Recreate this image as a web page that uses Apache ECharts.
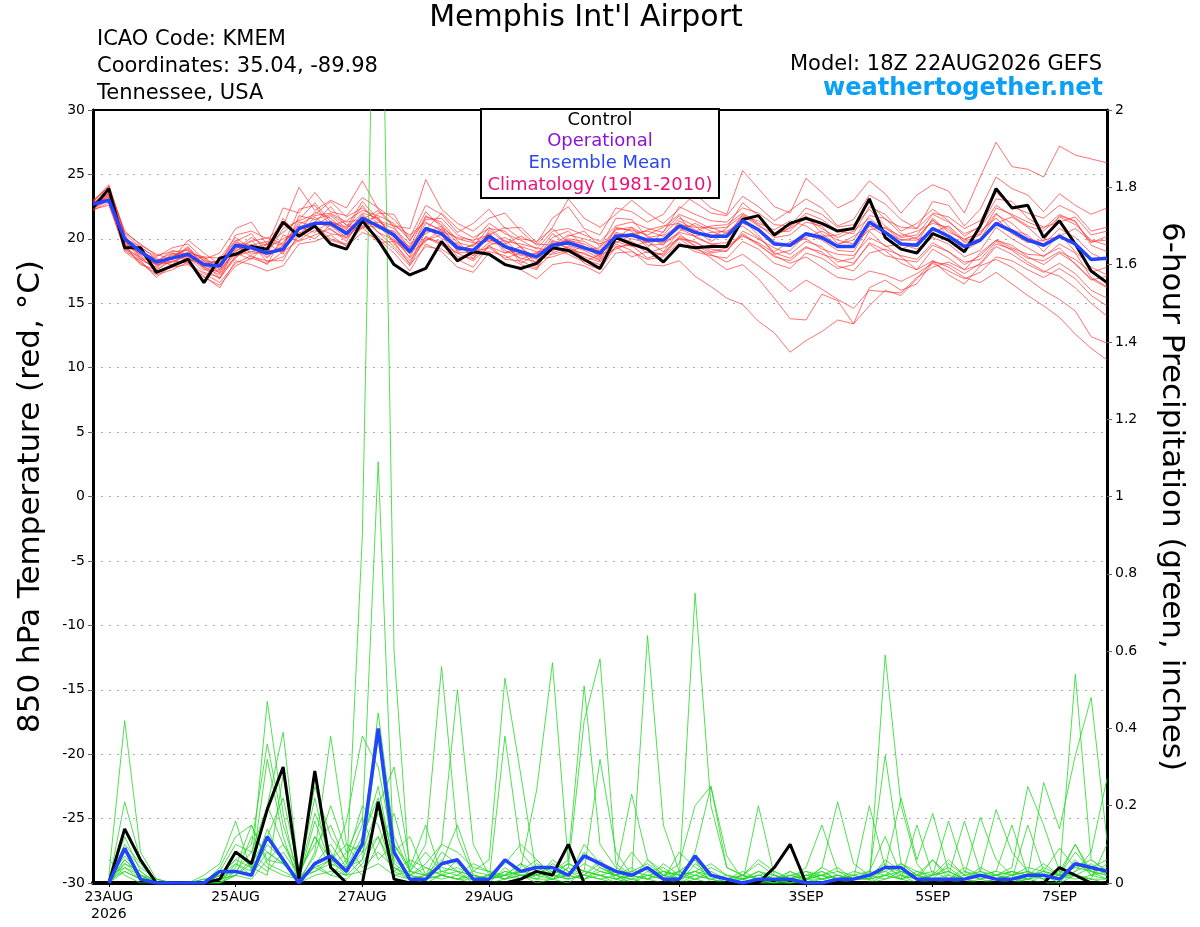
<!DOCTYPE html>
<html>
<head>
<meta charset="utf-8">
<title>Memphis Int'l Airport - GEFS</title>
<script src="https://cdn.jsdelivr.net/npm/echarts@6/dist/echarts.min.js"></script>
<style>
  html, body { margin: 0; padding: 0; background: #fff; }
  #chart { width: 1200px; height: 927px; }
</style>
</head>
<body>
<div id="chart"></div>
<script>
// x = 6-hour step counted from 18Z 22AUG2026 (step 0) to 18Z 07SEP (step 64)
var tickSteps = [1, 9, 17, 25, 37, 45, 53, 61];
var tickLabels = ['23AUG\n2026', '25AUG', '27AUG', '29AUG', '1SEP', '3SEP', '5SEP', '7SEP'];

// 850 hPa temperature, degC, steps 0..64
var controlTemp = [
  22.4, 23.9, 19.3, 19.3, 17.4, 17.9, 18.4, 16.6,
  18.5, 18.8, 19.4, 19.2, 21.3, 20.2, 21.0, 19.6,
  19.2, 21.4, 19.9, 18.0, 17.2, 17.7, 19.8, 18.3,
  19.0, 18.8, 18.0, 17.7, 18.1, 19.3, 19.1, 18.4,
  17.7, 20.1, 19.6, 19.2, 18.2, 19.5, 19.3, 19.4,
  19.4, 21.5, 21.8, 20.3, 21.2, 21.6, 21.2, 20.6,
  20.8, 23.1, 20.1, 19.2, 18.9, 20.4, 19.9, 19.0,
  21.0, 23.9, 22.4, 22.6, 20.1, 21.4, 19.6, 17.5,
  16.6
];
var meanTemp = [
  22.7, 23.0, 20.0, 19.0, 18.2, 18.5, 18.8, 18.0,
  17.9, 19.5, 19.3, 18.9, 19.2, 20.8, 21.2, 21.2,
  20.4, 21.6, 21.0, 20.3, 19.0, 20.8, 20.4, 19.3,
  19.1, 20.2, 19.4, 19.0, 18.6, 19.5, 19.7, 19.3,
  18.9, 20.2, 20.3, 19.9, 19.9, 21.0, 20.5, 20.2,
  20.2, 21.4, 20.7, 19.6, 19.5, 20.4, 20.1, 19.4,
  19.4, 21.3, 20.5, 19.6, 19.5, 20.8, 20.2, 19.4,
  19.9, 21.2, 20.6, 19.9, 19.5, 20.2, 19.6, 18.4,
  18.5
];
var memberTemps = [
  [22.9, 24.2, 20.4, 19.3, 18.6, 19.3, 19.6, 18.4, 18.9, 20.8, 21.3, 19.5, 22.4, 22.0, 23.6, 22.1,
   21.8, 23.2, 22.4, 21.5, 20.1, 22.6, 21.9, 20.5, 21.2, 22.3, 20.8, 20.9, 19.7, 21.6, 22.5, 20.8,
   20.3, 22.4, 22.1, 21.3, 21.9, 23.6, 22.8, 22.0, 21.8, 23.3, 22.5, 21.4, 22.2, 23.1, 22.4, 21.0,
   21.5, 23.4, 22.7, 21.5, 20.8, 22.9, 22.6, 21.0, 22.3, 24.8, 23.9, 23.4, 22.1, 23.5, 22.6, 21.9, 22.4],
  [22.3, 22.6, 19.3, 18.2, 17.3, 17.8, 18.0, 17.1, 16.2, 18.3, 18.0, 17.5, 17.9, 19.6, 19.8, 20.3,
   19.4, 20.5, 20.0, 18.9, 17.5, 19.6, 19.0, 17.8, 17.4, 18.9, 18.1, 17.6, 16.9, 18.0, 18.2, 17.9,
   17.3, 18.9, 19.0, 18.4, 18.6, 19.7, 19.0, 18.7, 18.5, 19.8, 19.2, 18.1, 17.7, 18.9, 18.5, 17.7,
   18.0, 19.7, 19.1, 18.1, 17.6, 19.2, 18.5, 17.6, 18.0, 19.4, 18.8, 18.0, 17.4, 18.1, 17.3, 16.0, 15.4],
  [22.6, 23.2, 19.8, 18.7, 18.0, 18.2, 18.9, 17.6, 17.5, 19.0, 19.9, 18.6, 19.5, 21.3, 21.0, 21.8,
   20.8, 22.0, 21.6, 20.0, 18.6, 20.9, 20.0, 19.6, 18.7, 20.5, 19.1, 18.5, 18.2, 19.9, 19.2, 18.6,
   18.2, 19.6, 19.1, 18.0, 17.9, 18.3, 17.1, 16.3, 15.4, 14.9, 13.6, 12.7, 11.2, 12.1, 12.8, 13.7,
   13.4, 16.2, 16.8, 16.0, 16.5, 18.2, 18.0, 17.3, 18.1, 19.6, 19.2, 18.5, 18.3, 19.0, 18.4, 17.4, 17.8],
  [22.8, 23.6, 20.1, 19.1, 18.3, 18.9, 18.4, 18.1, 17.8, 19.4, 19.0, 19.3, 20.0, 20.6, 22.1, 21.6,
   20.5, 21.9, 20.8, 20.6, 19.3, 21.2, 20.7, 19.0, 19.6, 19.8, 20.1, 19.4, 18.0, 19.2, 20.0, 19.8,
   19.1, 20.7, 20.9, 19.5, 19.6, 20.4, 19.4, 18.5, 17.6, 18.0, 16.9, 15.4, 13.8, 13.7, 15.7, 15.2,
   13.4, 14.8, 16.0, 15.6, 16.9, 18.3, 17.2, 16.5, 17.9, 18.4, 17.8, 16.9, 16.0, 15.3, 14.4, 12.4, 11.9],
  [22.5, 23.4, 19.6, 18.9, 18.0, 18.6, 19.2, 18.0, 18.3, 19.9, 18.8, 19.1, 19.0, 21.0, 20.9, 20.4,
   20.2, 21.2, 21.3, 20.8, 19.6, 20.4, 21.0, 19.1, 19.5, 20.4, 18.9, 19.4, 19.0, 19.1, 19.9, 19.6,
   19.0, 20.0, 20.9, 20.2, 19.5, 21.4, 20.7, 19.8, 20.5, 21.0, 20.1, 19.0, 19.8, 20.0, 19.2, 18.8,
   18.7, 20.1, 19.5, 18.6, 17.6, 18.3, 17.8, 17.0, 16.6, 17.4, 16.5, 15.6, 14.8, 13.9, 12.6, 11.5, 10.6],
  [23.0, 24.0, 20.6, 19.5, 18.8, 18.4, 19.9, 18.9, 18.0, 20.3, 20.6, 20.0, 21.0, 24.0, 22.2, 23.0,
   22.4, 24.5, 22.3, 21.0, 20.8, 24.6, 22.3, 21.2, 20.6, 21.6, 22.0, 20.6, 19.5, 20.9, 23.1, 21.6,
   20.9, 21.9, 23.0, 22.0, 21.2, 22.3, 23.5, 22.4, 21.9, 25.3, 23.9, 22.5, 22.0, 24.7, 23.6, 22.4,
   23.0, 24.5, 23.5, 22.0, 23.4, 24.2, 23.7, 22.0, 24.8, 27.5, 25.6, 25.4, 24.8, 27.2, 26.5, 26.2, 25.9],
  [22.4, 23.1, 19.4, 18.4, 17.8, 18.9, 18.6, 17.4, 17.0, 18.5, 19.6, 18.2, 18.6, 20.2, 21.7, 20.7,
   20.0, 21.4, 21.7, 19.6, 18.3, 19.9, 20.3, 18.6, 18.5, 19.5, 19.9, 18.8, 18.9, 18.8, 19.1, 18.9,
   18.3, 19.8, 19.4, 19.8, 19.0, 20.6, 21.2, 20.6, 20.1, 21.9, 21.1, 20.1, 20.3, 21.3, 21.0, 19.6,
   19.9, 21.8, 21.6, 20.4, 20.0, 21.5, 20.2, 19.1, 19.8, 21.2, 21.7, 20.9, 19.8, 21.8, 21.4, 19.5, 19.0],
  [22.7, 23.8, 20.2, 18.9, 18.5, 17.9, 18.6, 17.9, 17.6, 19.7, 19.5, 18.5, 19.8, 20.9, 20.5, 21.4,
   20.7, 22.6, 21.1, 20.5, 18.8, 21.7, 21.3, 19.9, 18.4, 20.7, 19.7, 18.1, 18.8, 20.4, 19.5, 19.1,
   18.5, 20.9, 20.6, 19.3, 20.6, 21.8, 20.1, 19.6, 19.7, 21.5, 20.3, 18.8, 19.1, 20.3, 19.9, 19.1,
   19.0, 21.0, 20.2, 19.2, 19.7, 21.6, 20.5, 20.0, 20.4, 22.0, 20.7, 20.3, 19.0, 20.4, 19.0, 17.8, 17.2],
  [22.2, 22.8, 19.1, 18.3, 17.0, 18.0, 19.0, 18.5, 17.3, 18.9, 18.4, 19.7, 18.8, 21.8, 21.5, 21.9,
   21.1, 21.0, 20.2, 19.2, 17.9, 20.2, 19.6, 18.2, 18.9, 19.0, 18.7, 18.0, 17.6, 19.8, 19.6, 18.4,
   18.0, 19.4, 18.6, 19.0, 18.8, 20.2, 19.7, 19.2, 19.0, 20.6, 20.0, 19.3, 18.8, 19.8, 19.4, 18.2,
   18.5, 20.6, 19.4, 19.6, 19.2, 20.1, 19.6, 18.6, 19.1, 20.9, 20.0, 19.3, 18.6, 19.6, 18.9, 17.0, 16.3],
  [22.8, 23.5, 19.9, 19.2, 18.1, 18.7, 18.3, 18.6, 18.5, 20.1, 19.2, 18.9, 19.4, 22.3, 22.6, 21.0,
   21.4, 22.2, 21.8, 21.2, 19.9, 21.5, 21.6, 20.3, 19.8, 21.2, 20.4, 19.9, 19.2, 20.6, 20.8, 20.3,
   19.8, 21.0, 21.3, 20.8, 20.5, 22.5, 21.9, 21.4, 21.3, 22.4, 22.0, 21.1, 21.0, 22.4, 21.9, 20.9,
   21.1, 22.8, 21.5, 20.9, 20.8, 22.0, 21.7, 20.8, 21.4, 23.6, 22.5, 22.0, 21.6, 22.6, 22.0, 20.6, 20.9],
  [22.6, 23.3, 19.5, 18.0, 17.6, 18.3, 18.1, 17.3, 16.6, 18.1, 18.7, 18.0, 20.3, 19.8, 20.3, 20.8,
   19.8, 21.8, 20.5, 19.9, 19.0, 20.1, 19.5, 18.9, 19.0, 19.3, 18.5, 18.9, 18.4, 18.6, 19.0, 19.4,
   18.7, 20.4, 20.0, 19.7, 20.0, 20.8, 20.2, 20.5, 20.6, 21.2, 20.8, 19.8, 19.4, 20.1, 20.6, 19.9,
   19.6, 20.7, 20.9, 19.9, 19.9, 20.5, 21.0, 19.9, 20.6, 21.6, 20.4, 19.7, 19.9, 20.2, 20.8, 19.8, 19.9],
  [22.9, 24.1, 20.3, 18.5, 18.2, 19.1, 18.8, 17.8, 17.4, 19.2, 20.1, 19.4, 21.6, 20.1, 21.3, 22.5,
   21.0, 20.8, 22.0, 21.9, 19.8, 22.1, 20.9, 20.0, 19.7, 19.9, 19.6, 20.2, 19.6, 19.5, 20.3, 20.0,
   19.6, 20.1, 20.4, 20.6, 20.2, 21.1, 20.9, 20.9, 20.4, 21.7, 21.4, 20.5, 20.6, 21.8, 20.4, 19.5,
   20.2, 21.0, 20.8, 20.2, 20.6, 21.2, 20.9, 19.7, 20.0, 21.9, 21.2, 20.1, 19.6, 20.8, 20.1, 18.9, 18.3],
  [22.4, 23.0, 19.7, 19.0, 17.9, 18.5, 19.4, 17.7, 16.9, 19.5, 18.6, 18.3, 18.3, 20.5, 20.0, 21.1,
   20.6, 21.6, 20.5, 19.4, 18.1, 20.6, 20.5, 19.3, 19.2, 20.0, 19.3, 18.7, 18.6, 19.4, 18.8, 18.2,
   18.8, 19.2, 19.7, 18.9, 19.3, 20.0, 19.8, 19.0, 19.3, 20.2, 19.7, 18.9, 18.5, 19.4, 18.8, 18.4,
   18.1, 19.6, 18.7, 18.4, 18.2, 19.5, 19.0, 18.2, 18.4, 19.8, 19.1, 18.2, 17.5, 17.1, 16.2, 15.0, 14.0],
  [22.6, 23.7, 20.0, 19.4, 18.4, 18.2, 18.7, 18.2, 18.1, 19.3, 19.8, 20.1, 19.6, 21.1, 21.8, 22.0,
   21.3, 21.5, 22.2, 20.9, 19.2, 20.7, 22.0, 20.8, 20.1, 20.8, 20.6, 19.3, 18.5, 20.1, 20.6, 19.4,
   18.6, 20.5, 20.2, 20.7, 21.0, 21.2, 20.6, 21.0, 21.1, 22.0, 21.2, 20.7, 21.4, 21.0, 20.2, 20.3,
   20.9, 22.3, 21.0, 20.1, 20.3, 21.9, 21.3, 20.4, 20.9, 22.6, 21.8, 21.0, 20.6, 21.7, 21.1, 19.9, 19.5],
  [22.5, 23.1, 19.2, 18.6, 17.5, 18.6, 19.3, 18.3, 16.9, 18.7, 19.0, 18.8, 19.1, 20.7, 21.1, 20.0,
   19.6, 21.0, 20.9, 20.2, 18.5, 20.0, 19.8, 18.9, 18.3, 19.4, 18.9, 19.1, 17.8, 19.7, 19.3, 18.8,
   18.4, 20.1, 19.8, 19.1, 18.7, 20.0, 19.2, 18.8, 18.2, 18.8, 17.9, 17.0, 15.9, 16.8, 16.1, 15.3,
   14.6, 16.0, 15.9, 15.8, 17.0, 17.8, 18.2, 17.6, 18.9, 19.9, 19.3, 18.8, 18.7, 19.3, 18.0, 16.9, 16.2],
  [22.7, 23.5, 19.6, 18.8, 18.3, 18.0, 18.5, 17.8, 17.2, 18.6, 19.3, 19.6, 20.5, 21.5, 22.8, 21.3,
   20.9, 22.9, 21.5, 20.2, 19.4, 21.8, 21.1, 19.7, 19.4, 20.9, 19.8, 19.6, 19.3, 19.0, 20.2, 20.6,
   19.4, 21.6, 21.5, 20.1, 20.3, 21.6, 21.0, 20.1, 20.8, 22.8, 21.8, 20.2, 20.9, 22.0, 21.5, 20.6,
   20.4, 22.5, 21.9, 20.6, 21.2, 22.3, 21.4, 20.2, 21.0, 23.1, 22.9, 21.6, 20.9, 21.3, 21.7, 20.3, 20.6],
  [22.3, 23.0, 19.0, 18.1, 17.2, 17.6, 18.2, 17.0, 16.4, 17.9, 18.5, 18.1, 19.0, 19.9, 20.7, 19.9,
   19.5, 20.9, 19.7, 19.8, 18.0, 19.4, 19.2, 18.4, 17.8, 19.5, 18.4, 18.3, 17.7, 18.9, 19.4, 18.1,
   17.6, 19.4, 19.5, 18.5, 18.9, 20.1, 19.5, 18.9, 19.1, 20.4, 19.6, 18.6, 18.3, 19.3, 19.0, 17.9,
   17.5, 18.9, 19.2, 18.7, 18.4, 19.7, 19.0, 18.0, 18.7, 19.9, 19.5, 18.6, 18.0, 18.9, 18.1, 16.8, 17.1],
  [22.9, 23.9, 20.5, 19.6, 18.7, 19.0, 19.1, 18.3, 18.2, 19.8, 20.4, 18.9, 20.8, 21.4, 21.9, 22.9,
   21.7, 22.4, 21.4, 21.0, 20.3, 21.3, 20.6, 20.1, 19.9, 20.3, 20.9, 20.0, 19.8, 20.8, 19.7, 19.2,
   19.3, 20.8, 20.7, 20.3, 20.9, 21.9, 21.4, 20.8, 20.9, 21.8, 21.0, 20.4, 20.8, 21.6, 20.8, 20.1,
   20.6, 21.6, 20.6, 19.9, 20.1, 21.4, 20.7, 19.8, 20.3, 22.4, 21.9, 21.3, 20.8, 21.9, 21.3, 19.7, 20.2],
  [22.6, 23.4, 19.9, 18.4, 17.7, 18.8, 18.9, 18.6, 17.6, 19.1, 19.5, 19.8, 19.5, 20.4, 21.2, 21.0,
   20.1, 21.3, 21.0, 19.8, 18.9, 19.8, 20.8, 19.5, 18.7, 19.7, 19.5, 18.4, 18.9, 19.6, 19.9, 19.4,
   18.9, 19.7, 20.3, 19.9, 19.7, 20.5, 20.2, 19.6, 19.4, 20.3, 19.5, 18.7, 18.1, 18.6, 17.8, 17.0,
   16.8, 17.5, 17.2, 16.7, 17.3, 18.1, 17.5, 16.9, 17.4, 18.6, 18.3, 17.6, 17.0, 17.7, 16.9, 15.6, 14.8]
];

// 6-hour precipitation, inches, steps 1..64 (first period ends 00Z 23AUG)
var controlPrecip = [
  0, 0.14, 0.06, 0, 0, 0, 0, 0.01,
  0.08, 0.05, 0.19, 0.30, 0.01, 0.29, 0.04, 0,
  0, 0.21, 0.01, 0, 0, 0, 0, 0,
  0, 0, 0.01, 0.03, 0.02, 0.10, 0, 0,
  0, 0, 0, 0, 0, 0, 0, 0,
  0, 0, 0.04, 0.10, 0, 0, 0, 0,
  0, 0, 0, 0, 0, 0, 0, 0,
  0, 0, 0, 0, 0.04, 0.02, 0, 0
];
var meanPrecip = [
  0, 0.09, 0.01, 0, 0, 0, 0, 0.03,
  0.03, 0.02, 0.12, 0.06, 0, 0.05, 0.07, 0.03,
  0.10, 0.40, 0.08, 0.01, 0.01, 0.05, 0.06, 0.01,
  0.01, 0.06, 0.03, 0.04, 0.04, 0.02, 0.07, 0.05,
  0.03, 0.02, 0.04, 0.01, 0.01, 0.07, 0.02, 0.01,
  0, 0.01, 0.01, 0.01, 0, 0, 0.01, 0.01,
  0.02, 0.04, 0.04, 0.01, 0.01, 0.01, 0.01, 0.02,
  0.01, 0.01, 0.02, 0.02, 0.01, 0.05, 0.04, 0.03
];
var memberPrecips = [
  [0.01, 0.05, 0.02, 0, 0, 0, 0, 0.01, 0.03, 0.02, 0.08, 0.05, 0.01, 0.04, 0.06, 0.02,
   0.9, 3.0, 0.6, 0.01, 0, 0.02, 0.03, 0, 0, 0.04, 0.01, 0.02, 0.01, 0, 0.03, 0.02,
   0, 0.01, 0, 0, 0, 0.02, 0.01, 0, 0, 0, 0, 0.01, 0, 0, 0, 0,
   0, 0.02, 0.01, 0, 0, 0, 0.01, 0, 0, 0, 0.01, 0, 0, 0.02, 0.01, 0],
  [0.02, 0.42, 0.08, 0.01, 0, 0, 0, 0, 0.02, 0.05, 0.12, 0.22, 0.03, 0.1, 0.15, 0.05,
   0.15, 1.09, 0.05, 0.02, 0.01, 0.08, 0.05, 0.01, 0.01, 0.02, 0.05, 0.01, 0.03, 0.02, 0.08, 0.04,
   0.02, 0, 0.03, 0.01, 0, 0.05, 0.02, 0, 0.01, 0, 0, 0, 0.01, 0, 0, 0,
   0, 0.04, 0.02, 0.01, 0, 0, 0, 0.01, 0, 0.01, 0, 0.02, 0, 0.05, 0.03, 0.01],
  [0, 0.21, 0.06, 0, 0, 0, 0, 0.02, 0.06, 0.04, 0.47, 0.18, 0, 0.05, 0.02, 0.01,
   0.05, 0.12, 0.02, 0.03, 0.1, 0.56, 0.12, 0.02, 0.01, 0.03, 0.02, 0, 0.01, 0.04, 0.02, 0.01,
   0, 0.02, 0.01, 0, 0.03, 0.06, 0, 0, 0, 0.01, 0, 0, 0.01, 0.02, 0.01, 0,
   0, 0.59, 0.2, 0.05, 0, 0.01, 0, 0, 0.01, 0, 0.02, 0.03, 0.01, 0.06, 0.02, 0.01],
  [0.01, 0.12, 0.03, 0, 0, 0, 0, 0.03, 0.1, 0.08, 0.2, 0.39, 0.02, 0.18, 0.08, 0.03,
   0.08, 0.2, 0.3, 0.05, 0.02, 0.1, 0.5, 0.1, 0.02, 0.05, 0.1, 0.06, 0.02, 0.01, 0.1, 0.05,
   0.01, 0.03, 0.05, 0.02, 0.01, 0.08, 0.25, 0.04, 0.02, 0.05, 0.02, 0, 0.01, 0.04, 0.21, 0.05,
   0.02, 0.33, 0.05, 0.02, 0.06, 0.01, 0.03, 0.02, 0.01, 0.03, 0.02, 0.26, 0.14, 0.33, 0.48, 0.11],
  [0, 0.08, 0.02, 0.01, 0, 0, 0.02, 0.05, 0.16, 0.03, 0.32, 0.12, 0, 0.08, 0.38, 0.1,
   0.04, 0.08, 0.04, 0.01, 0.02, 0.05, 0.15, 0.03, 0.06, 0.53, 0.28, 0.02, 0.05, 0.03, 0.01, 0.04,
   0.02, 0.01, 0.06, 0.03, 0.02, 0.01, 0.03, 0.01, 0, 0.2, 0.02, 0.01, 0.01, 0.04, 0.02, 0.01,
   0.01, 0.04, 0.22, 0.06, 0.18, 0.03, 0.01, 0.04, 0.02, 0.01, 0.15, 0.03, 0.02, 0.04, 0.03, 0.02],
  [0.01, 0.06, 0.02, 0, 0, 0, 0, 0.01, 0.04, 0.15, 0.06, 0.1, 0.04, 0.25, 0.12, 0.06,
   0.2, 0.15, 0.03, 0.06, 0.04, 0.02, 0.01, 0.03, 0.02, 0.01, 0.04, 0.24, 0.57, 0.05, 0.03, 0.32,
   0.08, 0.02, 0.04, 0.01, 0.03, 0.02, 0.04, 0.02, 0.01, 0.03, 0.01, 0.02, 0.01, 0.02, 0.01, 0.03,
   0.02, 0.05, 0.01, 0.15, 0.02, 0.06, 0.02, 0.03, 0.19, 0.08, 0.03, 0.02, 0.01, 0.03, 0.08, 0.27],
  [0, 0.04, 0.01, 0, 0, 0, 0.01, 0.02, 0.05, 0.02, 0.14, 0.05, 0.01, 0.03, 0.05, 0.16,
   0.38, 0.3, 0.08, 0.12, 0.02, 0.06, 0.03, 0.02, 0.01, 0.02, 0.01, 0.05, 0.03, 0.06, 0.51, 0.1,
   0.04, 0.02, 0.01, 0.05, 0.02, 0.03, 0.01, 0, 0.02, 0.01, 0, 0.03, 0.01, 0.02, 0, 0.01,
   0.02, 0.03, 0.01, 0.02, 0.01, 0.02, 0.16, 0.03, 0.02, 0.01, 0.01, 0.04, 0.02, 0.08, 0.03, 0.02],
  [0.01, 0.03, 0.01, 0, 0, 0, 0, 0.01, 0.02, 0.06, 0.03, 0.08, 0.02, 0.12, 0.04, 0.08,
   0.1, 0.44, 0.12, 0.03, 0.08, 0.03, 0.02, 0.05, 0.03, 0.02, 0.05, 0.03, 0.01, 0.04, 0.42, 0.58,
   0.05, 0.02, 0.64, 0.15, 0.03, 0.06, 0.02, 0.01, 0.01, 0.02, 0.01, 0, 0.02, 0.01, 0.02, 0.01,
   0.03, 0.02, 0.01, 0.03, 0.01, 0.05, 0.02, 0.17, 0.06, 0.02, 0.03, 0.01, 0.02, 0.54, 0.06, 0.03],
  [0, 0.05, 0.03, 0, 0, 0, 0.01, 0, 0.03, 0.02, 0.1, 0.06, 0.01, 0.05, 0.1, 0.04,
   0.12, 0.22, 0.06, 0.02, 0.04, 0.02, 0.06, 0.01, 0.02, 0.06, 0.02, 0.02, 0.04, 0.01, 0.02, 0.05,
   0.02, 0.08, 0.03, 0.04, 0.01, 0.75, 0.2, 0.04, 0.02, 0.06, 0.03, 0.01, 0.02, 0.03, 0.01, 0.02,
   0.01, 0.02, 0.03, 0.01, 0.02, 0.03, 0.01, 0.02, 0.03, 0.15, 0.02, 0.01, 0.03, 0.02, 0.01, 0.1],
  [0.01, 0.07, 0.02, 0, 0, 0, 0, 0.04, 0.12, 0.15, 0.05, 0.03, 0.01, 0.07, 0.2, 0.08,
   0.17, 0.06, 0.1, 0.04, 0.15, 0.02, 0.01, 0.02, 0.01, 0.38, 0.08, 0.03, 0.02, 0.05, 0.03, 0.02,
   0.03, 0.23, 0.06, 0.02, 0.05, 0.2, 0.25, 0.07, 0.01, 0.03, 0.02, 0.01, 0.03, 0.02, 0.03, 0.01,
   0.2, 0.04, 0.03, 0.01, 0.02, 0.16, 0.03, 0.01, 0.02, 0.04, 0.25, 0.15, 0.03, 0.1, 0.02, 0.05],
  [0, 0.09, 0.04, 0.01, 0, 0, 0, 0.02, 0.06, 0.1, 0.36, 0.15, 0.02, 0.03, 0.06, 0.1,
   0.08, 0.12, 0.04, 0.02, 0.05, 0.1, 0.08, 0.04, 0.03, 0.01, 0.03, 0.06, 0.02, 0.02, 0.05, 0.03,
   0.02, 0.03, 0.02, 0.01, 0.08, 0.04, 0.02, 0.01, 0.03, 0.01, 0.02, 0.01, 0.04, 0.15, 0.03, 0.02,
   0.01, 0.02, 0.05, 0.02, 0.01, 0.01, 0.04, 0.02, 0.02, 0.03, 0.01, 0.02, 0.01, 0.03, 0.05, 0.02],
  [0.02, 0.04, 0.02, 0, 0, 0, 0, 0.01, 0.08, 0.04, 0.02, 0.28, 0.03, 0.22, 0.04, 0.02,
   0.06, 0.38, 0.03, 0.01, 0.02, 0.04, 0.03, 0.02, 0.01, 0.03, 0.02, 0.01, 0.06, 0.03, 0.02, 0.01,
   0.02, 0.01, 0.02, 0.03, 0.02, 0.03, 0.02, 0.01, 0.02, 0.01, 0, 0.02, 0.01, 0.03, 0.01, 0.02,
   0.03, 0.12, 0.02, 0.01, 0.06, 0.02, 0.01, 0.03, 0.01, 0.02, 0.03, 0.01, 0.02, 0.1, 0.03, 0.04],
  [0, 0.03, 0.01, 0, 0, 0, 0, 0, 0.02, 0.01, 0.06, 0.05, 0, 0.02, 0.03, 0.02,
   0.03, 0.05, 0.02, 0.01, 0.01, 0.02, 0.01, 0, 0, 0.01, 0.02, 0.01, 0.01, 0.02, 0.01, 0.02,
   0.01, 0, 0.02, 0.01, 0, 0.01, 0, 0.01, 0, 0, 0.01, 0, 0, 0.01, 0, 0,
   0, 0.01, 0.02, 0, 0.01, 0, 0.01, 0, 0.01, 0, 0.01, 0.02, 0.01, 0.02, 0.01, 0.01],
  [0.06, 0.02, 0, 0, 0, 0, 0, 0.02, 0.03, 0.08, 0.04, 0.02, 0.01, 0.04, 0.02, 0.06,
   0.02, 0.1, 0.18, 0.03, 0.02, 0.01, 0.02, 0.01, 0.02, 0.02, 0.03, 0.04, 0.02, 0.01, 0.02, 0.06,
   0.01, 0.02, 0.01, 0.03, 0.01, 0.02, 0.01, 0.02, 0.01, 0.02, 0.01, 0.02, 0.03, 0.01, 0.02, 0.01,
   0.02, 0.03, 0.05, 0.03, 0.02, 0.04, 0.01, 0.02, 0.03, 0.02, 0.04, 0.03, 0.09, 0.04, 0.06, 0.03],
  [0.01, 0.1, 0.05, 0, 0, 0, 0, 0, 0.05, 0.03, 0.2, 0.1, 0.02, 0.12, 0.06, 0.04,
   0.06, 0.18, 0.1, 0.03, 0.02, 0.03, 0.04, 0.02, 0.01, 0.02, 0.03, 0.02, 0.03, 0.05, 0.03, 0.02,
   0.01, 0.02, 0.04, 0.02, 0.01, 0.03, 0.05, 0.02, 0.01, 0.02, 0.03, 0.01, 0.02, 0.02, 0.04, 0.01,
   0.01, 0.06, 0.03, 0.02, 0.03, 0.01, 0.02, 0.01, 0.02, 0.03, 0.02, 0.05, 0.02, 0.02, 0.04, 0.06],
  [0, 0.06, 0.02, 0, 0, 0, 0, 0.01, 0.02, 0.12, 0.08, 0.05, 0.01, 0.16, 0.05, 0.03,
   0.11, 0.25, 0.04, 0.02, 0.01, 0.02, 0.01, 0.01, 0.02, 0.01, 0.02, 0.03, 0.01, 0.02, 0.01, 0.03,
   0.02, 0.04, 0.01, 0.02, 0.03, 0.01, 0.02, 0.01, 0.02, 0.01, 0.01, 0.03, 0.01, 0.01, 0.02, 0.01,
   0.02, 0.01, 0.03, 0.01, 0.02, 0.03, 0.01, 0.02, 0.01, 0.02, 0.01, 0.03, 0.02, 0.01, 0.02, 0.03]
];

var FONT = "'DejaVu Sans', 'Liberation Sans', Arial, sans-serif";

function temps(arr) {
  return arr.map(function (v, i) { return [i, v]; });
}
function precs(arr) {
  return arr.map(function (v, i) { return [i + 1, v]; });
}

var series = [];
memberTemps.forEach(function (m) {
  series.push({
    type: 'line', yAxisIndex: 0, data: temps(m), symbol: 'none', silent: true,
    lineStyle: { color: 'rgba(255,45,45,0.75)', width: 0.9 }, z: 2
  });
});
memberPrecips.forEach(function (m) {
  series.push({
    type: 'line', yAxisIndex: 1, data: precs(m), symbol: 'none', silent: true,
    lineStyle: { color: 'rgba(40,215,40,0.9)', width: 0.9 }, z: 3
  });
});
series.push(
  { type: 'line', yAxisIndex: 0, data: temps(controlTemp), symbol: 'none', silent: true,
    lineStyle: { color: '#000', width: 3 }, z: 4 },
  { type: 'line', yAxisIndex: 0, data: temps(meanTemp), symbol: 'none', silent: true,
    lineStyle: { color: '#2244ff', width: 3.5 }, z: 5 },
  { type: 'line', yAxisIndex: 1, data: precs(controlPrecip), symbol: 'none', silent: true,
    lineStyle: { color: '#000', width: 3 }, z: 4 },
  { type: 'line', yAxisIndex: 1, data: precs(meanPrecip), symbol: 'none', silent: true,
    lineStyle: { color: '#2244ff', width: 3.5 }, z: 5 }
);

var chart = echarts.init(document.getElementById('chart'));
chart.setOption({
  animation: false,
  backgroundColor: '#fff',
  textStyle: { fontFamily: FONT },
  grid: { left: 93, right: 93, top: 110, bottom: 44 },
  xAxis: [{
    type: 'value', min: 0, max: 64,
    axisLine: { show: true, onZero: false, lineStyle: { color: '#000', width: 4 } },
    axisTick: { show: true, customValues: tickSteps, length: 4, lineStyle: { color: '#000' } },
    axisLabel: {
      customValues: tickSteps, color: '#000', fontSize: 14, margin: 6, lineHeight: 17,
      formatter: function (v) { return tickLabels[tickSteps.indexOf(v)]; }
    },
    splitLine: { show: false }
  }, {
    // plain top frame line
    type: 'value', position: 'top', min: 0, max: 64,
    axisLine: { show: true, onZero: false, lineStyle: { color: '#000', width: 2 } },
    axisTick: { show: false }, axisLabel: { show: false }, splitLine: { show: false }
  }],
  yAxis: [{
    type: 'value', position: 'left', min: -30, max: 30, interval: 5,
    name: '850 hPa Temperature (red, \u00b0C)', nameLocation: 'middle', nameGap: 47, nameRotate: 90,
    nameTextStyle: { fontSize: 31, color: '#000', fontFamily: FONT },
    axisLine: { show: true, onZero: false, lineStyle: { color: '#000', width: 3 } },
    axisTick: { show: true, length: 5, lineStyle: { color: '#666' } },
    axisLabel: { color: '#000', fontSize: 14, margin: 8 },
    splitLine: { show: true, lineStyle: { color: '#aaa', width: 1, type: [2, 6] } }
  }, {
    type: 'value', position: 'right', min: 0, max: 2, interval: 0.2,
    name: '6-hour Precipitation (green, inches)', nameLocation: 'middle', nameGap: 49, nameRotate: -90,
    nameTextStyle: { fontSize: 31, color: '#000', fontFamily: FONT },
    axisLine: { show: true, onZero: false, lineStyle: { color: '#000', width: 3 } },
    axisTick: { show: true, length: 5, lineStyle: { color: '#666' } },
    axisLabel: { color: '#000', fontSize: 14, margin: 8,
      formatter: function (v) { return String(+v.toFixed(1)); } },
    splitLine: { show: false }
  }],
  graphic: [
    { type: 'text', z: 100, x: 586, y: 3, style: { text: "Memphis Int'l Airport", font: '30px ' + FONT, fill: '#000', textAlign: 'center' } },
    { type: 'text', z: 100, x: 97, y: 29, style: { text: 'ICAO Code: KMEM', font: '21px ' + FONT, fill: '#000' } },
    { type: 'text', z: 100, x: 97, y: 56, style: { text: 'Coordinates: 35.04, -89.98', font: '21px ' + FONT, fill: '#000' } },
    { type: 'text', z: 100, x: 97, y: 83, style: { text: 'Tennessee, USA', font: '21px ' + FONT, fill: '#000' } },
    { type: 'text', z: 100, x: 1102, y: 54, style: { text: 'Model: 18Z 22AUG2026 GEFS', font: '21px ' + FONT, fill: '#000', textAlign: 'right' } },
    { type: 'text', z: 100, x: 1103, y: 77, style: { text: 'weathertogether.net', font: 'bold 24px ' + FONT, fill: '#0aa0f5', textAlign: 'right' } },
    { type: 'rect', z: 100, shape: { x: 481, y: 109, width: 238, height: 89 }, style: { fill: '#fff', stroke: '#000', lineWidth: 2 } },
    { type: 'text', z: 101, x: 600, y: 111, style: { text: 'Control', font: '18px ' + FONT, fill: '#000', textAlign: 'center' } },
    { type: 'text', z: 101, x: 600, y: 132, style: { text: 'Operational', font: '18px ' + FONT, fill: '#8a12d6', textAlign: 'center' } },
    { type: 'text', z: 101, x: 600, y: 154, style: { text: 'Ensemble Mean', font: '18px ' + FONT, fill: '#2a46f0', textAlign: 'center' } },
    { type: 'text', z: 101, x: 600, y: 176, style: { text: 'Climatology (1981-2010)', font: '18px ' + FONT, fill: '#e8127a', textAlign: 'center' } }
  ],
  series: series
});
</script>
</body>
</html>
